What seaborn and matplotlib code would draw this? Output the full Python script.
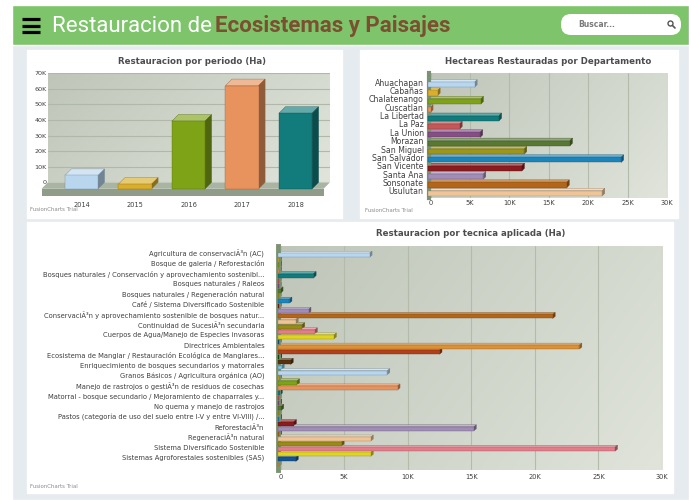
import numpy as np
import matplotlib
matplotlib.use("Agg")
import matplotlib.pyplot as plt
import matplotlib.transforms as mtransforms
from matplotlib.colors import LinearSegmentedColormap, to_rgba
from matplotlib.patches import Rectangle, Polygon, FancyBboxPatch, Circle
from matplotlib.lines import Line2D
from matplotlib.ticker import FuncFormatter
import seaborn as sns

# --- data (Ha) ---
years = ["2014", "2015", "2016", "2017", "2018"]
ha_by_year = [8600, 3000, 43500, 66300, 48500]

departments = ["Ahuachapan", "Cabañas", "Chalatenango", "Cuscatlan", "La Libertad",
               "La Paz", "La Union", "Morazan", "San Miguel", "San Salvador",
               "San Vicente", "Santa Ana", "Sonsonate", "Usulutan"]
ha_by_department = [5900, 1200, 6700, 300, 9000, 4000, 6600,
                    18000, 12200, 24500, 11900, 7000, 17600, 22100]

# only every second technique gets a label in the original chart
technique_labels = [
    "Agricultura de conservaciÃ³n (AC)",
    "Bosque de galeria / Reforestación",
    "Bosques naturales / Conservación y aprovechamiento sostenibl...",
    "Bosques naturales / Raleos",
    "Bosques naturales / Regeneración natural",
    "Café / Sistema Diversificado Sostenible",
    "ConservaciÃ³n y aprovechamiento sostenible de bosques natur...",
    "Continuidad de SucesiÃ³n secundaria",
    "Cuerpos de Agua/Manejo de Especies invasoras",
    "Directrices Ambientales",
    "Ecosistema de Manglar / Restauración Ecológica de Manglares...",
    "Enriquecimiento de bosques secundarios y matorrales",
    "Granos Básicos / Agricultura orgánica (AO)",
    "Manejo de rastrojos o gestiÃ³n de residuos de cosechas",
    "Matorral - bosque secundario / Mejoramiento de chaparrales y...",
    "No quema y manejo de rastrojos",
    "Pastos (categoría de uso del suelo entre I-V y entre VI-VIII) /...",
    "ReforestaciÃ³n",
    "RegeneraciÃ³n natural",
    "Sistema Diversificado Sostenible",
    "Sistemas Agroforestales sostenibles (SAS)",
]
ha_by_technique = [7200, 100, 100, 100, 2800, 50, 50, 200, 50, 900,
                   50, 2400, 21600, 1400, 1900, 2900, 4400, 50, 23700, 12700,
                   100, 1000, 300, 8600, 100, 1500, 9400, 150, 50, 100,
                   250, 50, 100, 1250, 15400, 100, 7300, 5000, 26500, 7300,
                   1400, 50]

fc_palette = ["#AFD8F8", "#F6BD0F", "#8BBA00", "#FF8E46", "#008E8E", "#D64646",
              "#8E468E", "#588526", "#B3AA00", "#008ED6", "#9D080D", "#A186BE",
              "#CC6600", "#FDC689", "#ABA000", "#F26D7D", "#FFF200", "#0054A6",
              "#F7941C", "#CC3300", "#006600", "#663300", "#6DCFF6"]

sns.set_style("white")
plt.rcParams["font.family"] = ["DejaVu Sans"]

W, H = 689, 500
fig = plt.figure(figsize=(W / 100, H / 100), dpi=100)
fig.patch.set_facecolor("#E5EBEF")
inch = fig.dpi_scale_trans
wall_cmap = LinearSegmentedColormap.from_list("wall", ["#bfc6b9", "#e0e4db"])
kfmt = FuncFormatter(lambda v, _: "0" if v == 0 else f"{int(v / 1000)}K")


def px_rect(x0, y0, x1, y1, **kw):
    fig.add_artist(Rectangle((x0 / 100, (H - y1) / 100), (x1 - x0) / 100, (y1 - y0) / 100,
                             transform=inch, zorder=-5, **kw))


def make_ax(left, top, right, bottom):
    return fig.add_axes([left / W, 1 - bottom / H, (right - left) / W, (bottom - top) / H])


def wall(ax):
    yy, xx = np.mgrid[0:1:64j, 0:1:256j]
    ax.imshow(0.7 * xx + 0.3 * yy, extent=(0, 1, 0, 1), transform=ax.transAxes,
              cmap=wall_cmap, aspect="auto", zorder=-1, origin="upper",
              interpolation="bilinear")
    ax.set_facecolor("none")


def extrude(ax, bars, dx, dy):
    # seaborn's bar is moved forward (down-left) as the front face;
    # top and end faces join it back to the data position on the wall
    px = mtransforms.IdentityTransform()
    for p in bars:
        c = np.array(to_rgba(p.get_facecolor())[:3])
        light = c + (1 - c) * 0.35
        dark = c * 0.62
        (x0, y0), (x1, y1) = ax.transData.transform(
            [(p.get_x(), p.get_y()), (p.get_x() + p.get_width(), p.get_y() + p.get_height())])
        l, r = sorted((x0, x1))
        b, t = sorted((y0, y1))
        top = [(l - dx, t - dy), (r - dx, t - dy), (r, t), (l, t)]
        side = [(r - dx, b - dy), (r, b), (r, t), (r - dx, t - dy)]
        for verts, col in ((top, light), (side, dark)):
            ax.add_patch(Polygon(verts, closed=True, transform=px, facecolor=col,
                                 edgecolor=dark, linewidth=0.25, clip_on=False, zorder=2.5))
        p.set_transform(ax.transData + mtransforms.ScaledTranslation(-dx / 100, -dy / 100, inch))
        p.set_edgecolor(dark)
        p.set_linewidth(0.25)
        p.set_clip_on(False)
        p.set_zorder(3)


def style(ax):
    for s in ax.spines.values():
        s.set_visible(False)
    ax.tick_params(length=0, colors="#3f3f3f")
    ax.set_xlabel("")
    ax.set_ylabel("")
    ax.set_axisbelow(True)


def left_wall(ax, width):
    sp = ax.spines["left"]
    sp.set_visible(True)
    sp.set_color("#7c9274")
    sp.set_linewidth(width)
    sp.set_position(("outward", width / 2))


# --- page decoration ---
px_rect(0, 0, W, H, facecolor="white")
px_rect(12, 5, W, H, facecolor="#E5EBEF")
px_rect(12, 5, W, 45, facecolor="#7EC46B")
px_rect(27, 50, 342, 218, facecolor="white")
px_rect(360, 50, 678, 218, facecolor="white")
px_rect(27, 222, 673, 493, facecolor="white")

for yl in (19, 25.5, 32):
    fig.add_artist(Line2D([22 / 100, 40 / 100], [(H - yl) / 100] * 2, transform=inch,
                          color="black", linewidth=2.3, solid_capstyle="butt"))
t1 = fig.text(52 / 100, (H - 26) / 100, "Restauracion de", transform=inch, color="white",
              fontsize=16, family="Roboto", va="center")
fig.canvas.draw()
bb = t1.get_window_extent(fig.canvas.get_renderer())
fig.text((bb.x1 + 3) / 100, (H - 26) / 100, "Ecosistemas y Paisajes", transform=inch,
         color="#7A5030", fontsize=16, family="Roboto", weight="bold", va="center")

fig.add_artist(FancyBboxPatch((561 / 100, (H - 35) / 100), 120 / 100, 21 / 100,
                              boxstyle="round,pad=0,rounding_size=0.1", transform=inch,
                              facecolor="white", edgecolor="none", zorder=-4))
fig.text(578 / 100, (H - 24.5) / 100, "Buscar...", transform=inch, fontsize=5.5,
         color="#7a7a7a", weight="bold", va="center")
fig.add_artist(Circle((670.5 / 100, (H - 23.5) / 100), 0.025, transform=inch,
                      facecolor="none", edgecolor="#555555", linewidth=1.0))
fig.add_artist(Line2D([672.5 / 100, 675 / 100], [(H - 25.5) / 100, (H - 28) / 100],
                      transform=inch, color="#555555", linewidth=1.2))

# --- chart 1: restauracion por periodo ---
ax1 = make_ax(48, 73.3, 330, 182.3)
sns.barplot(x=years, y=ha_by_year, hue=years, palette=fc_palette[:len(years)],
            width=0.62, legend=False, ax=ax1)
bars1 = list(ax1.patches)
wall(ax1)
fw, fh = 282, 109
ax1.add_patch(Polygon([(0, 0), (1, 0), (1 - 6.5 / fw, -6.5 / fh), (-6.5 / fw, -6.5 / fh)],
                      closed=True, transform=ax1.transAxes, facecolor="#a9b4a2",
                      edgecolor="none", clip_on=False, zorder=1.5))
ax1.add_patch(Rectangle((-6.5 / fw, -13.5 / fh), 1, 7 / fh, transform=ax1.transAxes,
                        facecolor="#8e9c89", edgecolor="none", clip_on=False, zorder=1.5))
style(ax1)
ax1.grid(axis="y", color="#b0b8a9", linewidth=0.8)
ax1.set_ylim(0, 70000)
ax1.set_yticks(np.arange(0, 70001, 10000))
ax1.yaxis.set_major_formatter(kfmt)
ax1.set_xlim(-0.748, 4.523)
ax1.set_xticks(np.arange(len(years)) - 6.5 / 53.5, years)
ax1.tick_params(axis="x", labelsize=4.8, pad=14)
ax1.tick_params(axis="y", labelsize=4.6, pad=1)
fig.text(192 / W, 1 - 62 / H, "Restauracion por periodo (Ha)", ha="center", va="center",
         fontsize=6.2, weight="bold", color="#4d4d4d")
fig.text(30 / W, 1 - 210 / H, "FusionCharts Trial", fontsize=3.9, color="#8a8a8a", va="center")

# --- chart 2: hectareas por departamento ---
ax2 = make_ax(430.7, 73, 667, 198)
sns.barplot(x=ha_by_department, y=departments, hue=departments,
            palette=fc_palette[:len(departments)], orient="h", width=0.62,
            legend=False, ax=ax2)
bars2 = list(ax2.patches)
wall(ax2)
style(ax2)
left_wall(ax2, 3)
ax2.grid(axis="x", color="#b3bbab", linewidth=0.8)
ax2.set_xlim(0, 30000)
ax2.set_xticks(np.arange(0, 30001, 5000))
ax2.xaxis.set_major_formatter(kfmt)
ax2.set_ylim(13.86, -1.10)
ax2.tick_params(axis="y", labelsize=5.6, pad=3.5)
ax2.tick_params(axis="x", labelsize=4.8, pad=1.5)
fig.text(548 / W, 1 - 61 / H, "Hectareas Restauradas por Departamento", ha="center",
         va="center", fontsize=6.2, weight="bold", color="#4d4d4d")
fig.text(365 / W, 1 - 211 / H, "FusionCharts Trial", fontsize=3.9, color="#8a8a8a", va="center")

# --- chart 3: restauracion por tecnica ---
ax3 = make_ax(280.5, 246, 662, 470)
bar_pos = list(range(len(ha_by_technique)))
tech_colors = [fc_palette[i % len(fc_palette)] for i in bar_pos]
sns.barplot(x=ha_by_technique, y=bar_pos, hue=bar_pos, palette=tech_colors, orient="h",
            width=0.78, legend=False, ax=ax3)
bars3 = list(ax3.patches)
wall(ax3)
style(ax3)
left_wall(ax3, 3.5)
ax3.grid(axis="x", color="#b3bbab", linewidth=0.8)
ax3.set_xlim(0, 30000)
ax3.set_xticks(np.arange(0, 30001, 5000))
ax3.xaxis.set_major_formatter(kfmt)
ax3.set_ylim(42.47, -1.41)
ax3.set_yticks(np.arange(0, len(ha_by_technique), 2), technique_labels)
ax3.tick_params(axis="y", labelsize=4.9, pad=10)
ax3.tick_params(axis="x", labelsize=4.8, pad=3)
fig.text(471 / W, 1 - 233 / H, "Restauracion por tecnica aplicada (Ha)", ha="center",
         va="center", fontsize=6.2, weight="bold", color="#4d4d4d")
fig.text(30 / W, 1 - 486 / H, "FusionCharts Trial", fontsize=3.9, color="#8a8a8a", va="center")

# 3D faces need the final limits, so they come last
extrude(ax1, bars1, 6.5, 6.5)
extrude(ax2, bars2, 2.5, 2.5)
extrude(ax3, bars3, 2.5, 2.0)

fig.savefig("out.png", dpi=100)
